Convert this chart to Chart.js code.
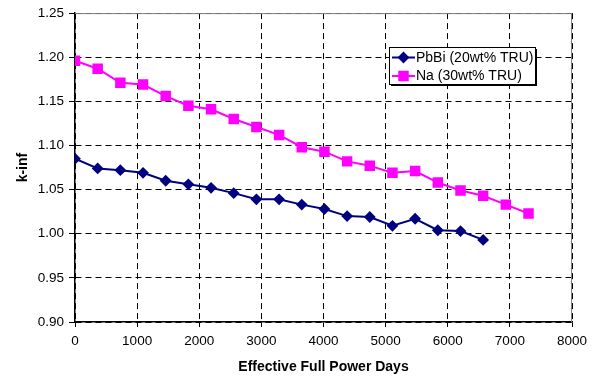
<!DOCTYPE html>
<html>
<head>
<meta charset="utf-8">
<script src="https://cdn.jsdelivr.net/npm/chart.js@4/dist/chart.umd.min.js"></script>
<style>
  html, body { margin: 0; padding: 0; background: #fff; }
  canvas { display: block; }
</style>
</head>
<body>
<canvas id="kinf" width="597" height="379"></canvas>
<script>
// Effective full power days for each burnup step
const days_pbbi = [0, 365, 730, 1095, 1460, 1825, 2190, 2555, 2920, 3285, 3650, 4015, 4380, 4745, 5110, 5475, 5840, 6205, 6570]
const days_na = [0, 365, 730, 1095, 1460, 1825, 2190, 2555, 2920, 3285, 3650, 4015, 4380, 4745, 5110, 5475, 5840, 6205, 6570, 6935, 7300]

// k-inf values
const kinf_pbbi = [1.085, 1.074, 1.072, 1.069, 1.060, 1.056, 1.052, 1.046, 1.039, 1.039, 1.033, 1.028, 1.020, 1.019, 1.009, 1.017, 1.004, 1.003, 0.993]
const kinf_na = [1.196, 1.187, 1.171, 1.169, 1.156, 1.145, 1.141, 1.130, 1.121, 1.112, 1.098, 1.093, 1.082, 1.077, 1.069, 1.071, 1.058, 1.049, 1.043, 1.033, 1.023]

const labels = ["PbBi (20wt% TRU)", "Na (30wt% TRU)"]
const x_title = "Effective Full Power Days"
const y_title = "k-inf"

const font = "'Liberation Sans', Arial, sans-serif"

function toPoints(xs, ys) {
    return ys.map((y, i) => ({ x: xs[i], y: y }))
}

// gray frame on top/right of plot area
const framePlugin = {
    id: 'frame',
    beforeDatasetsDraw(chart) {
        const { ctx, chartArea: a } = chart
        ctx.save()
        ctx.strokeStyle = '#808080'
        ctx.lineWidth = 1
        ctx.beginPath()
        ctx.moveTo(a.left, a.top + 0.5)
        ctx.lineTo(a.right - 0.5, a.top + 0.5)
        ctx.lineTo(a.right - 0.5, a.bottom)
        ctx.stroke()
        ctx.restore()
    }
}

// boxed legend with shadow, like the spreadsheet one
const legendBoxPlugin = {
    id: 'legendBox',
    afterDraw(chart) {
        const ctx = chart.ctx
        const x = 389, y = 47, w = 146, h = 37
        ctx.save()
        ctx.fillStyle = '#000'
        ctx.fillRect(x + 2, y + 2, w, h)
        ctx.fillStyle = '#fff'
        ctx.fillRect(x, y, w, h)
        ctx.strokeStyle = '#000'
        ctx.lineWidth = 1
        ctx.strokeRect(x + 0.5, y + 0.5, w, h)
        ctx.font = "14px " + font
        ctx.textBaseline = 'middle'
        chart.data.datasets.forEach((ds, i) => {
            const ry = y + 10.5 + i * 18.5
            ctx.strokeStyle = ds.borderColor
            ctx.lineWidth = 2
            ctx.beginPath()
            ctx.moveTo(x + 3, ry)
            ctx.lineTo(x + 26, ry)
            ctx.stroke()
            Chart.helpers.drawPoint(ctx, {
                pointStyle: ds.pointStyle,
                radius: ds.pointRadius,
                borderWidth: 1
            }, x + 14.5, ry)
            ctx.fillStyle = ds.pointBackgroundColor
            ctx.fill()
            ctx.fillStyle = '#000'
            ctx.fillText(ds.label, x + 27, ry + 0.5)
        })
        ctx.restore()
    }
}

const ctx = document.getElementById("kinf").getContext("2d")
new Chart(ctx, {
    type: 'line',
    data: {
        datasets: [{
            label: labels[0],
            data: toPoints(days_pbbi, kinf_pbbi),
            borderColor: '#000080',
            backgroundColor: '#000080',
            pointBackgroundColor: '#000080',
            pointBorderColor: '#000080',
            pointStyle: 'rectRot',
            pointRadius: 4.5,
            borderWidth: 2,
            tension: 0
        },
        {
            label: labels[1],
            data: toPoints(days_na, kinf_na),
            borderColor: '#ff00ff',
            backgroundColor: '#ff00ff',
            pointBackgroundColor: '#ff00ff',
            pointBorderColor: '#ff00ff',
            pointStyle: 'rect',
            pointRadius: 6,
            borderWidth: 2,
            tension: 0
        }]
    },
    options: {
        responsive: false,
        animation: false,
        layout: { padding: { left: 0, top: 7, right: 25, bottom: 0 } },
        scales: {
            x: {
                type: 'linear',
                min: 0,
                max: 8000,
                afterFit(scale) { scale.height = 57 },
                ticks: {
                    stepSize: 1000,
                    color: '#000',
                    padding: 6,
                    maxRotation: 0,
                    font: { family: font, size: 13.5 },
                    callback: (v) => String(v)
                },
                grid: {
                    color: '#000',
                    lineWidth: 1,
                    tickLength: 5,
                    tickColor: '#000'
                },
                border: { display: true, color: '#000', width: 1.5, dash: [6, 4] },
                title: {
                    display: true,
                    text: x_title,
                    color: '#000',
                    padding: { top: 3, bottom: 3 },
                    font: { family: font, size: 14, weight: 'bold' }
                }
            },
            y: {
                min: 0.90,
                max: 1.25,
                afterFit(scale) { scale.width = 75 },
                ticks: {
                    stepSize: 0.05,
                    color: '#000',
                    padding: 5,
                    font: { family: font, size: 13.5 },
                    callback: (v) => v.toFixed(2)
                },
                grid: {
                    color: '#000',
                    lineWidth: 1,
                    tickLength: 6,
                    tickColor: '#000'
                },
                border: { display: true, color: '#000', width: 1.5, dash: [6, 4] },
                title: {
                    display: true,
                    text: y_title,
                    color: '#000',
                    padding: { top: 15, bottom: 15 },
                    font: { family: font, size: 14, weight: 'bold' }
                }
            }
        },
        plugins: {
            legend: { display: false },
            tooltip: { enabled: false }
        }
    },
    plugins: [framePlugin, legendBoxPlugin]
});
</script>
</body>
</html>
